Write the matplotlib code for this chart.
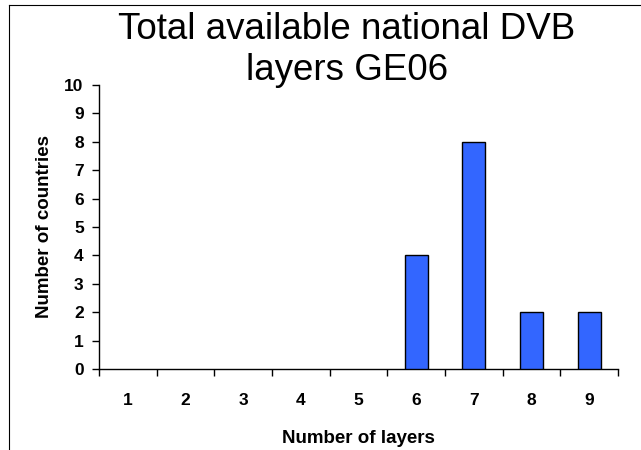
import matplotlib
matplotlib.use("Agg")
import matplotlib.pyplot as plt
from matplotlib.lines import Line2D

# data
layers = [1, 2, 3, 4, 5, 6, 7, 8, 9]
countries = [0, 0, 0, 0, 0, 4, 8, 2, 2]
y_ticks = list(range(0, 11))

plt.rcParams['font.family'] = ['Liberation Sans', 'DejaVu Sans']

fig = plt.figure(figsize=(6.41, 4.5), dpi=100)
ax = fig.add_axes([99 / 641, 1 - 369 / 450, (618 - 99) / 641, (369 - 85) / 450])

# zero-height bars show nothing in the original
edges = ['black' if c > 0 else 'none' for c in countries]
ax.bar(layers, countries, width=0.4, color='#3366FF', edgecolor=edges, linewidth=1.0, zorder=3)

ax.set_xlim(0.5, 9.5)
ax.set_ylim(0, 10)
ax.set_yticks(y_ticks)
ax.set_yticklabels([str(v) for v in y_ticks], fontweight='bold', fontsize=12.5)

# ticks sit between categories, labels under the categories
ax.set_xticks([x + 0.5 for x in [0] + layers])
ax.set_xticklabels([])
ax.set_xticks(layers, minor=True)
ax.set_xticklabels([str(v) for v in layers], minor=True, fontweight='bold', fontsize=12.5)
ax.tick_params(axis='x', which='major', direction='out', length=5, width=1)
ax.tick_params(axis='x', which='minor', length=0, pad=17)
ax.tick_params(axis='y', direction='out', length=5, width=1, pad=6)

for side in ['top', 'right']:
    ax.spines[side].set_visible(False)
ax.spines['left'].set_linewidth(1)
ax.spines['bottom'].set_linewidth(1)

ax.set_xlabel('Number of layers', fontweight='bold', fontsize=13.5, labelpad=16)
ax.set_ylabel('Number of countries', fontweight='bold', fontsize=13.5, labelpad=8)

fig.text(347 / 641, 1 - 50 / 450, 'Total available national DVB\nlayers GE06',
         ha='center', va='center', fontsize=26.5, linespacing=1.22)

# outer frame lines (left and top)
fig.add_artist(Line2D([9 / 641, 9 / 641], [0, 1 - 5 / 450], color='black', linewidth=0.8, transform=fig.transFigure))
fig.add_artist(Line2D([9 / 641, 1], [1 - 5 / 450, 1 - 5 / 450], color='black', linewidth=0.8, transform=fig.transFigure))

fig.savefig('out.png', dpi=100)
